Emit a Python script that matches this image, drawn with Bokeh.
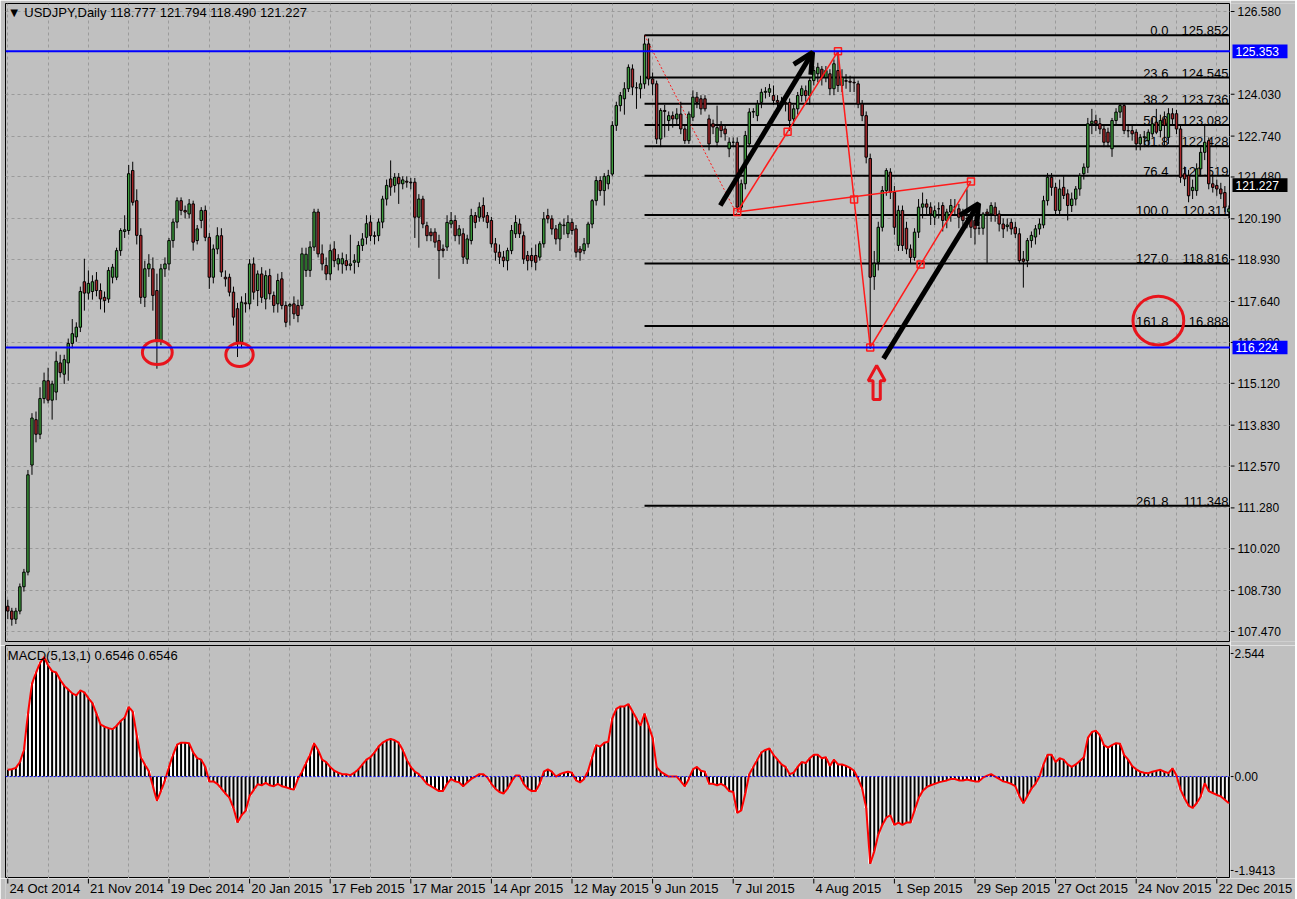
from bokeh.plotting import figure
from bokeh.layouts import column, row
from bokeh.models import (Range1d, FixedTicker, Span, Label, Arrow, OpenHead, Grid)
from bokeh.embed import file_html
from bokeh.resources import INLINE
from bokeh.core.properties import value

# ---------------- data (daily USDJPY bars, index 0 = 24 Oct 2014) ----------------
opens = [
    108.25, 108.10, 107.85, 108.10, 108.85, 109.30, 112.60, 114.00, 113.55, 114.65,
    115.20, 114.60, 114.85, 115.75, 115.40, 115.75, 116.35, 116.55, 116.85, 118.25,
    117.90, 117.95, 118.30, 117.98, 117.77, 117.72, 118.39, 118.39, 119.21, 119.80,
    119.83, 121.68, 120.75, 119.68, 117.77, 118.65, 118.65, 117.98, 116.44, 118.65,
    118.80, 119.52, 120.09, 120.75, 120.45, 120.34, 120.65, 119.52, 120.14, 120.45,
    119.62, 118.39, 119.26, 119.67, 118.39, 118.39, 117.93, 117.42, 116.39, 117.60,
    117.57, 118.80, 117.98, 118.49, 117.72, 118.44, 117.83, 117.57, 118.34, 117.52,
    117.50, 117.57, 117.52, 117.52, 118.60, 118.60, 119.32, 120.40, 119.11, 118.75,
    118.49, 119.26, 118.80, 118.80, 118.90, 118.75, 118.85, 118.85, 119.37, 119.62,
    120.09, 119.67, 119.67, 120.09, 120.80, 121.42, 121.22, 121.47, 121.27, 121.35,
    121.32, 121.32, 120.24, 120.80, 119.98, 119.78, 119.78, 119.52, 119.26, 119.32,
    120.03, 120.14, 119.67, 119.73, 118.95, 119.52, 120.29, 120.24, 120.60, 120.29,
    120.14, 119.42, 119.16, 119.01, 118.90, 119.21, 119.73, 120.03, 119.67, 119.06,
    119.06, 119.06, 119.01, 119.42, 120.29, 120.19, 119.88, 119.57, 119.98, 119.73,
    120.08, 119.88, 119.26, 119.21, 119.42, 120.03, 120.75, 121.37, 121.06, 121.27,
    121.57, 123.07, 123.68, 123.89, 124.20, 124.81, 124.23, 124.20, 124.35, 125.58,
    124.50, 124.35, 122.65, 123.53, 123.22, 123.37, 123.27, 123.42, 122.96, 122.60,
    123.32, 123.94, 123.89, 123.89, 123.27, 123.12, 122.55, 123.07, 122.96, 122.35,
    122.55, 122.55, 120.55, 121.27, 122.50, 123.48, 123.37, 123.78, 124.09, 124.09,
    123.99, 123.84, 123.78, 123.78, 123.78, 123.27, 123.58, 123.99, 124.14, 123.99,
    124.45, 124.66, 124.80, 124.55, 124.66, 124.20, 124.76, 124.30, 124.45, 124.43,
    124.40, 124.35, 123.73, 123.37, 122.05, 118.41, 118.85, 119.93, 121.06, 121.63,
    121.01, 119.37, 120.45, 119.90, 119.26, 119.00, 119.78, 120.55, 120.65, 120.55,
    120.24, 120.50, 120.60, 120.14, 120.40, 120.55, 120.50, 120.34, 120.20, 120.24,
    120.14, 119.90, 119.90, 120.40, 120.34, 120.55, 120.34, 120.03, 119.95, 120.08,
    119.93, 119.73, 118.95, 118.90, 119.52, 119.63, 119.88, 120.00, 120.75, 121.47,
    121.16, 120.45, 121.16, 120.96, 120.60, 120.80, 121.11, 121.58, 121.78, 123.12,
    123.22, 123.12, 122.96, 122.86, 122.35, 123.22, 123.48, 123.68, 122.91, 122.91,
    122.86, 122.50, 122.70, 122.60, 122.81, 123.17, 122.91, 123.27, 122.70, 123.43,
    123.43, 122.96, 121.58, 121.52, 121.06, 121.06, 121.73, 122.24, 122.60, 121.27,
    121.22, 121.11, 121.00, 120.40,
]
highs = [
    108.45, 108.20, 108.20, 108.95, 109.40, 112.45, 114.20, 114.25, 115.00, 115.45,
    115.60, 115.20, 116.10, 116.00, 116.00, 116.50, 117.10, 117.00, 118.10, 118.96,
    118.60, 118.45, 118.55, 118.20, 117.95, 118.70, 118.80, 119.30, 119.90, 120.30,
    121.85, 121.95, 121.10, 119.90, 118.90, 119.10, 119.00, 118.50, 118.80, 119.00,
    119.60, 120.20, 120.85, 120.85, 120.60, 120.80, 120.75, 120.00, 120.55, 120.60,
    119.75, 119.40, 119.93, 119.90, 118.60, 118.50, 118.10, 117.60, 117.80, 117.90,
    118.95, 119.00, 118.60, 118.70, 118.60, 118.65, 117.95, 118.50, 118.55, 117.65,
    117.60, 117.80, 117.70, 119.30, 119.30, 119.50, 120.50, 120.50, 119.40, 119.00,
    119.40, 119.50, 119.10, 119.15, 119.10, 119.70, 119.10, 119.50, 119.75, 120.30,
    120.30, 119.80, 120.20, 120.90, 121.40, 121.99, 121.60, 121.60, 121.50, 121.50,
    121.45, 121.45, 120.95, 120.90, 120.10, 119.90, 119.90, 119.70, 119.40, 120.30,
    120.40, 120.30, 120.00, 119.90, 119.70, 120.50, 120.40, 120.70, 120.85, 120.40,
    120.25, 119.60, 119.40, 119.20, 119.30, 120.00, 120.30, 120.20, 119.80, 119.20,
    119.30, 119.40, 119.50, 120.40, 120.50, 120.30, 120.00, 120.10, 120.20, 120.30,
    120.20, 120.00, 119.35, 119.60, 120.10, 120.80, 121.50, 121.50, 121.60, 121.70,
    123.20, 123.80, 124.10, 124.40, 124.95, 124.95, 124.40, 124.60, 125.85, 125.75,
    124.70, 124.45, 123.60, 123.70, 123.50, 123.50, 123.60, 123.80, 123.10, 123.50,
    124.15, 124.10, 124.00, 124.00, 123.40, 123.25, 123.68, 123.20, 123.10, 122.70,
    122.70, 122.70, 121.40, 122.90, 123.60, 123.60, 123.85, 124.20, 124.25, 124.35,
    124.30, 124.00, 123.95, 123.90, 123.90, 123.70, 124.10, 124.30, 124.30, 124.55,
    124.90, 125.00, 124.90, 124.90, 124.80, 125.10, 125.35, 124.80, 124.65, 124.60,
    124.55, 124.45, 123.85, 123.50, 122.20, 119.20, 120.10, 121.20, 121.75, 121.75,
    121.20, 120.60, 120.60, 120.10, 119.40, 119.90, 120.80, 121.00, 120.80, 120.70,
    120.60, 120.70, 120.70, 120.50, 120.80, 120.80, 120.65, 120.50, 121.10, 120.40,
    120.30, 120.10, 120.40, 120.50, 120.70, 120.70, 120.45, 120.20, 120.20, 120.20,
    120.10, 119.90, 119.20, 119.60, 119.80, 120.00, 120.20, 120.90, 121.60, 121.60,
    121.30, 121.40, 121.50, 121.10, 121.00, 121.20, 121.60, 121.90, 123.30, 123.58,
    123.40, 123.30, 123.10, 123.00, 123.30, 123.60, 123.76, 123.75, 123.10, 123.05,
    122.95, 122.80, 122.90, 122.95, 123.30, 123.58, 123.40, 123.50, 123.60, 123.60,
    123.55, 123.10, 121.80, 121.70, 121.40, 121.90, 122.40, 123.07, 122.70, 121.50,
    121.40, 121.30, 121.20, 120.60,
]
lows = [
    107.85, 107.65, 107.70, 108.00, 108.70, 109.20, 112.30, 113.30, 113.40, 114.50,
    114.50, 114.00, 114.60, 115.30, 115.10, 115.20, 116.20, 116.40, 116.70, 117.36,
    117.70, 117.70, 117.80, 117.40, 117.30, 117.60, 118.20, 118.30, 119.05, 119.60,
    119.70, 120.60, 119.40, 117.57, 117.47, 118.40, 117.36, 115.57, 116.30, 118.40,
    118.60, 119.30, 119.90, 120.30, 120.20, 120.20, 119.21, 119.40, 119.90, 119.50,
    118.03, 118.20, 119.10, 118.40, 118.10, 117.80, 116.90, 115.93, 116.20, 117.30,
    117.40, 117.70, 117.50, 117.60, 117.40, 117.70, 117.30, 117.30, 117.40, 116.85,
    116.90, 117.10, 117.00, 117.40, 118.40, 118.40, 119.20, 119.00, 118.60, 118.30,
    118.30, 118.70, 118.60, 118.50, 118.60, 118.60, 118.50, 118.70, 119.20, 119.40,
    119.50, 119.40, 119.50, 119.90, 120.60, 120.90, 121.00, 120.65, 121.10, 121.15,
    121.10, 119.60, 119.30, 119.90, 119.50, 119.50, 119.30, 118.34, 119.00, 119.20,
    119.90, 119.50, 119.40, 118.80, 118.80, 119.40, 119.90, 120.10, 120.10, 119.90,
    119.30, 118.90, 118.80, 118.70, 118.60, 119.10, 119.60, 119.60, 118.80, 118.60,
    118.70, 118.60, 118.90, 119.30, 120.05, 119.70, 119.40, 119.20, 119.70, 119.60,
    119.70, 119.00, 118.90, 119.10, 119.30, 119.90, 120.60, 120.90, 120.60, 121.10,
    121.50, 122.90, 123.50, 123.40, 124.10, 124.00, 123.58, 123.90, 124.20, 124.30,
    124.00, 122.50, 122.40, 122.70, 122.90, 123.00, 123.10, 122.80, 122.50, 122.50,
    123.20, 123.60, 123.40, 123.50, 122.30, 122.80, 122.40, 122.70, 122.60, 122.09,
    122.40, 120.41, 120.45, 121.10, 122.40, 123.30, 123.20, 123.60, 123.90, 123.95,
    123.70, 123.60, 123.60, 123.50, 122.90, 123.10, 123.40, 123.80, 123.80, 123.70,
    124.30, 124.40, 124.30, 124.40, 124.00, 124.00, 124.10, 124.10, 124.20, 124.10,
    124.10, 123.60, 123.20, 121.90, 116.18, 118.00, 118.60, 119.80, 120.90, 120.80,
    119.70, 119.20, 119.20, 119.10, 118.80, 118.90, 119.60, 120.20, 120.30, 120.00,
    120.00, 120.20, 119.80, 119.90, 120.10, 120.30, 119.90, 119.80, 119.90, 119.60,
    119.40, 119.70, 119.70, 118.80, 120.10, 120.10, 119.80, 119.60, 119.80, 119.70,
    119.60, 118.80, 118.07, 118.70, 119.30, 119.40, 119.70, 119.90, 120.60, 120.90,
    120.30, 120.30, 120.80, 120.14, 120.40, 120.60, 120.90, 121.40, 121.60, 122.80,
    122.90, 122.80, 122.40, 122.40, 122.10, 123.10, 123.30, 122.80, 122.70, 122.60,
    122.30, 122.30, 122.40, 122.40, 122.70, 122.80, 122.70, 122.40, 122.50, 123.10,
    122.80, 121.30, 121.20, 120.70, 120.80, 120.90, 121.50, 122.00, 121.10, 121.00,
    120.90, 120.80, 120.40, 120.20,
]
closes = [
    108.10, 107.85, 108.10, 108.85, 109.30, 112.30, 114.05, 113.55, 114.65, 115.20,
    114.60, 115.10, 115.80, 115.45, 115.85, 116.35, 116.65, 116.85, 117.95, 117.90,
    118.20, 118.25, 117.98, 117.72, 117.67, 118.60, 118.70, 119.21, 119.83, 119.85,
    121.58, 120.70, 119.68, 117.77, 118.65, 118.80, 117.83, 116.44, 118.65, 118.80,
    119.52, 120.09, 120.75, 120.45, 120.40, 120.65, 119.47, 119.88, 120.45, 119.62,
    118.39, 119.26, 119.67, 118.55, 118.34, 117.93, 117.16, 116.39, 117.62, 117.57,
    118.80, 117.93, 118.49, 117.77, 118.44, 117.88, 117.52, 118.29, 117.52, 117.00,
    117.55, 117.26, 117.21, 119.11, 119.10, 119.32, 120.40, 119.11, 118.80, 118.49,
    119.21, 118.90, 118.96, 118.96, 118.75, 118.80, 118.90, 119.37, 119.57, 120.04,
    119.67, 119.65, 120.09, 120.80, 121.22, 121.17, 121.47, 121.27, 121.39, 121.32,
    121.30, 120.24, 120.80, 120.03, 119.67, 119.67, 119.47, 119.21, 119.21, 120.08,
    120.14, 119.67, 119.88, 119.01, 119.57, 120.29, 120.08, 120.55, 120.24, 120.08,
    119.42, 119.16, 119.01, 118.90, 119.21, 119.83, 120.08, 119.73, 118.95, 118.90,
    118.90, 118.85, 119.42, 120.19, 120.19, 119.88, 119.57, 120.03, 120.00, 120.08,
    119.83, 119.16, 119.16, 119.42, 120.03, 120.75, 121.37, 121.06, 121.50, 121.52,
    123.07, 123.68, 123.99, 124.20, 124.86, 124.25, 124.23, 124.35, 125.58, 124.50,
    124.35, 122.65, 123.53, 123.50, 123.37, 123.27, 123.42, 122.96, 122.60, 123.42,
    123.94, 123.78, 123.58, 123.58, 122.50, 123.02, 123.00, 122.91, 122.81, 122.55,
    122.55, 120.55, 121.27, 122.76, 123.48, 123.50, 123.73, 124.09, 124.12, 124.20,
    123.84, 123.78, 123.78, 123.75, 123.22, 123.58, 123.99, 124.20, 123.99, 124.45,
    124.76, 124.86, 124.55, 124.76, 124.20, 124.97, 124.30, 124.55, 124.43, 124.40,
    124.38, 123.73, 123.37, 122.09, 118.39, 118.82, 119.93, 121.06, 121.68, 121.01,
    119.93, 120.45, 119.37, 119.26, 119.00, 119.78, 120.55, 120.65, 120.55, 120.34,
    120.44, 120.50, 120.14, 120.40, 120.60, 120.55, 120.24, 120.14, 120.20, 119.93,
    119.88, 119.90, 120.34, 120.34, 120.60, 120.29, 120.03, 119.88, 120.00, 119.88,
    119.73, 118.90, 118.88, 119.52, 119.68, 119.88, 120.03, 120.75, 121.47, 121.16,
    120.45, 121.11, 120.91, 120.60, 120.80, 121.11, 121.52, 121.78, 123.12, 123.20,
    123.12, 122.96, 122.55, 122.55, 123.22, 123.48, 123.68, 122.91, 122.90, 122.81,
    122.50, 122.70, 122.72, 122.86, 123.12, 122.86, 123.22, 123.07, 123.43, 123.27,
    122.96, 121.47, 121.42, 120.90, 121.16, 121.73, 122.24, 122.55, 121.27, 121.16,
    121.11, 120.96, 120.55, 120.50,
]
macd = [
    0.14, 0.15, 0.18, 0.30, 0.55, 1.30, 1.92, 2.15, 2.35, 2.47,
    2.30, 2.18, 2.15, 2.00, 1.88, 1.80, 1.72, 1.68, 1.78, 1.74,
    1.62, 1.52, 1.30, 1.08, 1.03, 1.00, 0.98, 1.05, 1.15, 1.22,
    1.44, 1.34, 0.85, 0.40, 0.25, 0.11, -0.20, -0.50, -0.30, -0.08,
    0.20, 0.45, 0.66, 0.70, 0.70, 0.69, 0.50, 0.38, 0.35, 0.20,
    -0.10, -0.10, -0.15, -0.25, -0.35, -0.44, -0.65, -0.95, -0.80, -0.71,
    -0.40, -0.28, -0.16, -0.18, -0.13, -0.18, -0.20, -0.15, -0.20, -0.22,
    -0.25, -0.27, -0.05, 0.10, 0.28, 0.45, 0.69, 0.55, 0.35, 0.30,
    0.20, 0.12, 0.08, 0.05, 0.05, 0.03, 0.08, 0.15, 0.25, 0.35,
    0.40, 0.50, 0.62, 0.70, 0.75, 0.78, 0.75, 0.70, 0.55, 0.35,
    0.20, 0.10, 0.05, -0.05, -0.15, -0.20, -0.25, -0.30, -0.30, -0.15,
    -0.05, -0.10, -0.12, -0.20, -0.12, -0.05, 0.00, 0.05, 0.05, -0.02,
    -0.15, -0.25, -0.32, -0.35, -0.25, -0.10, 0.02, 0.02, -0.15, -0.25,
    -0.30, -0.30, -0.15, 0.10, 0.15, 0.10, 0.00, 0.05, 0.08, 0.10,
    0.08, -0.08, -0.12, -0.05, 0.12, 0.40, 0.65, 0.62, 0.70, 0.72,
    1.20, 1.40, 1.45, 1.45, 1.50, 1.35, 1.20, 1.05, 1.30, 1.05,
    0.80, 0.20, 0.10, 0.05, 0.00, 0.00, 0.00, -0.10, -0.20, -0.05,
    0.15, 0.20, 0.12, 0.10, -0.15, -0.15, -0.18, -0.15, -0.20, -0.30,
    -0.32, -0.75, -0.70, -0.35, 0.05, 0.20, 0.35, 0.50, 0.55, 0.58,
    0.45, 0.35, 0.25, 0.20, 0.05, 0.08, 0.20, 0.30, 0.28, 0.38,
    0.45, 0.45, 0.38, 0.40, 0.22, 0.35, 0.25, 0.25, 0.22, 0.18,
    0.12, -0.05, -0.25, -0.65, -1.80, -1.55, -1.20, -1.00, -0.85, -0.80,
    -1.00, -0.95, -1.00, -0.95, -0.95, -0.70, -0.45, -0.30, -0.22, -0.18,
    -0.15, -0.12, -0.10, -0.08, -0.05, -0.05, -0.08, -0.08, -0.06, -0.08,
    -0.10, -0.10, -0.02, 0.02, 0.05, 0.00, -0.05, -0.10, -0.12, -0.15,
    -0.20, -0.40, -0.55, -0.40, -0.25, -0.15, 0.00, 0.25, 0.45, 0.45,
    0.30, 0.38, 0.35, 0.25, 0.20, 0.25, 0.32, 0.40, 0.80, 0.92,
    0.95, 0.85, 0.65, 0.60, 0.65, 0.69, 0.68, 0.45, 0.35, 0.22,
    0.15, 0.10, 0.08, 0.07, 0.10, 0.12, 0.14, 0.10, 0.07, 0.17,
    0.02, -0.27, -0.45, -0.60, -0.65, -0.55, -0.41, -0.14, -0.30, -0.34,
    -0.38, -0.41, -0.48, -0.55,
]

date_ticks = [0, 20, 40, 60, 80, 100, 120, 140, 160, 180, 200, 220, 240, 260, 280, 300]
date_labels = ["24 Oct 2014", "21 Nov 2014", "19 Dec 2014", "20 Jan 2015", "17 Feb 2015",
               "17 Mar 2015", "14 Apr 2015", "12 May 2015", "9 Jun 2015", "7 Jul 2015",
               "4 Aug 2015", "1 Sep 2015", "29 Sep 2015", "27 Oct 2015", "24 Nov 2015",
               "22 Dec 2015"]
grid_ticks = list(range(0, 304, 10))
price_ticks = [126.58, 124.03, 122.74, 121.48, 120.19, 118.93, 117.64, 116.38,
               115.12, 113.83, 112.57, 111.28, 110.02, 108.73, 107.47]
macd_ticks = [2.544, 0.0, -1.9413]
macd_tick_labels = ["2.544", "0.00", "-1.9413"]

fib_levels = ["0.0", "23.6", "38.2", "50.0", "61.8", "76.4", "100.0", "127.0", "161.8", "261.8"]
fib_prices = [125.852, 124.545, 123.736, 123.082, 122.428, 121.519, 120.311, 118.816, 116.888, 111.348]
fib_value_text = ["125.852", "124.545", "123.736", "123.082", "122.428", "121.519", "120.311",
                  "118.816", "16.888", "111.348"]
fib_start_bar = 158
fib_end_bar = 181

support_resistance = [125.353, 116.224]
last_price = 121.227

# harmonic pattern anchor points (bar index, price)
pattern_bar = [181, 206, 214, 239]
pattern_price = [120.40, 125.353, 116.224, 121.34]

# black arrows (start bar, start price, end bar, end price)
arrow_x0 = [176.8, 217.3]
arrow_y0 = [120.60, 115.88]
arrow_x1 = [199.7, 240.9]
arrow_y1 = [125.32, 120.66]

# red highlight ellipses (bar, price, width in bars, height in price)
circle_x = [37.1, 57.5, 285.5]
circle_y = [116.07, 116.00, 117.05]
circle_w = [7.4, 6.8, 12.6]
circle_h = [0.74, 0.72, 1.50]

# hollow red up-arrow marker
up_arrow_bar = 215.6
up_arrow_top = 115.67
up_arrow_base = 115.20
up_arrow_bottom = 114.62

# ---------------- styling / layout ----------------
n = min(len(opens), len(highs), len(lows), len(closes), len(macd))
idx = list(range(n))

BG = "#c0c0c0"
GRID = "#9a9a9a"
FONT = "Liberation Sans"
RED = "#ff1a1a"
X0, X1 = -0.57, 303.4
P_LO, P_HI = 107.162, 126.827
M_LO, M_HI = -2.107, 2.709
MAIN_W, AX_W = 1230, 65
FRAME_W = MAIN_W - 5

xr = Range1d(X0, X1)
pr = Range1d(P_LO, P_HI)
mr = Range1d(M_LO, M_HI)


def base_fig(w, h, x_range, y_range, left, top, bottom, outline="black"):
    f = figure(width=w, height=h, x_range=x_range, y_range=y_range,
               output_backend="svg", toolbar_location=None,
               x_axis_location=None, y_axis_location=None,
               min_border_left=left, min_border_right=0, min_border_top=top,
               min_border_bottom=bottom,
               background_fill_color=BG, border_fill_color=BG,
               outline_line_color=outline, outline_line_width=1)
    f.grid.visible = False
    return f


# ---------------- main price panel ----------------
p = base_fig(MAIN_W, 645, xr, pr, 5, 3, 4)
p.add_layout(Grid(dimension=0, ticker=FixedTicker(ticks=grid_ticks),
                  grid_line_color=GRID, grid_line_dash="3 3"))
p.add_layout(Grid(dimension=1, ticker=FixedTicker(ticks=price_ticks),
                  grid_line_color=GRID, grid_line_dash="3 3"))

# Fibonacci retracement (background)
nf = len(fib_prices)
p.segment(x0=[fib_start_bar] * nf, x1=[X1 + 5] * nf, y0=fib_prices, y1=fib_prices,
          line_color="black", line_width=2)
p.line([fib_start_bar, fib_end_bar], [fib_prices[0], fib_prices[6]],
       line_color=RED, line_width=1, line_dash="2 2")
p.text(x=[288.0] * nf, y=fib_prices, text=fib_levels, text_align="right",
       text_baseline="bottom", text_font=value(FONT), text_font_size="13px",
       text_color="black")
p.text(x=[302.9] * nf, y=fib_prices, text=fib_value_text, text_align="right",
       text_baseline="bottom", text_font=value(FONT), text_font_size="13px",
       text_color="black")

for lv in support_resistance:
    p.add_layout(Span(location=lv, dimension="width", line_color="#0000ff", line_width=2))

# candles
p.segment(x0=idx, x1=idx, y0=lows[:n], y1=highs[:n], line_color="black", line_width=1)
up = [i for i in idx if closes[i] >= opens[i]]
dn = [i for i in idx if closes[i] < opens[i]]
p.vbar(x=up, width=0.6, top=[closes[i] for i in up], bottom=[opens[i] for i in up],
       fill_color="#3c9c3c", line_color="black", line_width=1)
p.vbar(x=dn, width=0.6, top=[opens[i] for i in dn], bottom=[closes[i] for i in dn],
       fill_color="#a8262a", line_color="black", line_width=1)

# harmonic pattern
A, B, C, D = [(pattern_bar[k], pattern_price[k]) for k in range(4)]
for s, e in [(A, B), (B, C), (C, D), (A, D)]:
    p.line([s[0], e[0]], [s[1], e[1]], line_color=RED, line_width=1.5)
mid_pts = [((A[0] + B[0]) / 2, (A[1] + B[1]) / 2), ((B[0] + C[0]) / 2, (B[1] + C[1]) / 2),
           ((C[0] + D[0]) / 2, (C[1] + D[1]) / 2)]
sq_x = pattern_bar + [q[0] for q in mid_pts]
sq_y = pattern_price + [q[1] for q in mid_pts]
p.scatter(sq_x, sq_y, marker="square", size=7, fill_color=None, line_color=RED, line_width=1.5)

# black arrows
for k in range(len(arrow_x0)):
    p.add_layout(Arrow(end=OpenHead(line_color="black", line_width=5, size=20),
                       x_start=arrow_x0[k], y_start=arrow_y0[k],
                       x_end=arrow_x1[k], y_end=arrow_y1[k],
                       line_color="black", line_width=5))

# red circles
p.ellipse(x=circle_x, y=circle_y, width=circle_w, height=circle_h,
          fill_color=None, line_color="#e8141c", line_width=3)

# hollow red up-arrow
c = up_arrow_bar
p.patch([c, c + 2.1, c + 0.9, c + 0.9, c - 0.9, c - 0.9, c - 2.1, c],
        [up_arrow_top, up_arrow_base, up_arrow_base, up_arrow_bottom, up_arrow_bottom,
         up_arrow_base, up_arrow_base, up_arrow_top],
        fill_color=None, line_color="#e8141c", line_width=3)

p.add_layout(Label(x=0, y=P_HI, text="\u25bc USDJPY,Daily  118.777 121.794 118.490 121.227",
                   text_baseline="top", y_offset=-1, text_font=FONT,
                   text_font_size="13px", text_color="black"))

# price axis strip (right)
pa = base_fig(AX_W, 645, Range1d(0, AX_W), pr, 0, 3, 4, outline=None)
nt = len(price_ticks)
pa.segment(x0=[0] * nt, x1=[4] * nt, y0=price_ticks, y1=price_ticks, line_color="black")
pa.text(x=[7] * nt, y=price_ticks, text=[f"{t:.3f}" for t in price_ticks],
        text_align="left", text_baseline="middle", text_font=value(FONT),
        text_font_size="12px", text_color="black")
box_levels = support_resistance + [last_price]
box_colors = ["#0000ff", "#0000ff", "#000000"]
pa.rect(x=[29.5] * 3, y=box_levels, width=55, height=0.42, fill_color=box_colors,
        line_color=None)
pa.text(x=[5] * 3, y=box_levels, text=[f"{v:.3f}" for v in box_levels],
        text_align="left", text_baseline="middle", text_font=value(FONT),
        text_font_size="12px", text_color="white")

# ---------------- MACD panel ----------------
m = base_fig(MAIN_W, 233, xr, mr, 5, 0, 0)
m.add_layout(Grid(dimension=0, ticker=FixedTicker(ticks=grid_ticks),
                  grid_line_color=GRID, grid_line_dash="3 3"))
m.vbar(x=idx, width=1.0, top=macd[:n], bottom=0, fill_color="white", line_color=None)
m.vbar(x=idx, width=0.5, top=macd[:n], bottom=0, fill_color="black", line_color=None)
m.add_layout(Span(location=0, dimension="width", line_color="#0000ff", line_width=1,
                  line_dash="2 2"))
m.line(idx, macd[:n], line_color="#ff0000", line_width=2)
m.add_layout(Label(x=0, y=M_HI, text="MACD(5,13,1) 0.6546 0.6546", text_baseline="top",
                   y_offset=-2, text_font=FONT, text_font_size="13px", text_color="black"))

ma = base_fig(AX_W, 233, Range1d(0, AX_W), mr, 0, 0, 0, outline=None)
nm = len(macd_ticks)
ma.segment(x0=[0] * nm, x1=[3] * nm, y0=macd_ticks, y1=macd_ticks, line_color="black")
ma.text(x=[4] * nm, y=macd_ticks, text=macd_tick_labels, text_align="left",
        text_baseline="middle", text_font=value(FONT), text_font_size="12px",
        text_color="black")

# ---------------- date strip ----------------
DATE_W = MAIN_W + AX_W
d_end = X0 + (X1 - X0) * (DATE_W - 5) / FRAME_W
dstrip = base_fig(DATE_W, 21, Range1d(X0, d_end), Range1d(0, 21), 5, 0, 0, outline=None)
nd = len(date_ticks)
dstrip.segment(x0=date_ticks, x1=date_ticks, y0=[21] * nd, y1=[16] * nd, line_color="black")
dstrip.text(x=[t + 0.4 for t in date_ticks], y=[19] * nd, text=date_labels,
            text_align="left", text_baseline="top", text_font=value(FONT),
            text_font_size="13px", text_color="black")

layout = column(row(p, pa, spacing=0), row(m, ma, spacing=0), dstrip, spacing=0)
open("out.html", "w").write(file_html(layout, INLINE))
